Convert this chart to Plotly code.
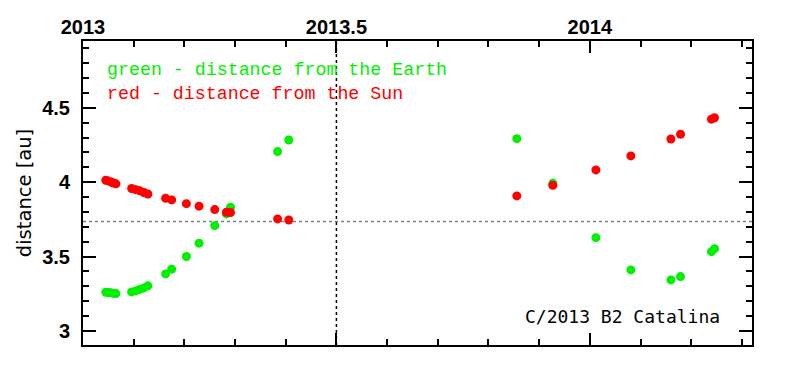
import plotly.graph_objects as go

# Data (decimal year, distance in au)
years = [2013.045, 2013.050, 2013.055, 2013.060, 2013.065,
         2013.096, 2013.104, 2013.112, 2013.120, 2013.128,
         2013.163, 2013.175, 2013.204, 2013.229, 2013.260,
         2013.283, 2013.291, 2013.384, 2013.406,
         2013.856, 2013.927, 2014.012, 2014.081, 2014.160,
         2014.179, 2014.240, 2014.246]
earth_dist = [3.260, 3.258, 3.256, 3.252, 3.251,
              3.262, 3.269, 3.279, 3.289, 3.303,
              3.383, 3.415, 3.500, 3.590, 3.708,
              3.787, 3.832, 4.206, 4.284,
              4.293, 3.993, 3.627, 3.410, 3.343,
              3.365, 3.533, 3.553]
sun_dist = [4.013, 4.009, 4.002, 3.995, 3.989,
            3.958, 3.950, 3.942, 3.931, 3.921,
            3.892, 3.881, 3.856, 3.839, 3.816,
            3.798, 3.796, 3.753, 3.746,
            3.908, 3.980, 4.083, 4.177, 4.291,
            4.323, 4.424, 4.434]
ref_distance = 3.735
ref_year = 2013.5
x_range = [2013.0, 2014.32]
y_range = [2.905, 4.95]

GREEN = "#00f000"
RED = "#ff0000"

fig = go.Figure()
fig.add_trace(go.Scatter(x=years, y=earth_dist, mode="markers",
                         marker=dict(color=GREEN, size=9, line=dict(width=0)),
                         showlegend=False))
fig.add_trace(go.Scatter(x=years, y=sun_dist, mode="markers",
                         marker=dict(color=RED, size=9, line=dict(width=0)),
                         showlegend=False))

fig.add_shape(type="line", xref="paper", yref="y", x0=0, x1=1,
              y0=ref_distance, y1=ref_distance,
              line=dict(color="#808080", width=1.5, dash="dot"), layer="below")
fig.add_shape(type="line", xref="x", yref="paper", x0=ref_year, x1=ref_year,
              y0=0, y1=1, line=dict(color="#000000", width=1.5, dash="dot"),
              layer="below")

fig.add_annotation(xref="paper", yref="paper", x=0.033, y=0.905,
                   xanchor="left", yanchor="middle", showarrow=False,
                   text="green - distance from the Earth",
                   font=dict(family="Liberation Mono", size=18.3, color=GREEN))
fig.add_annotation(xref="paper", yref="paper", x=0.033, y=0.826,
                   xanchor="left", yanchor="middle", showarrow=False,
                   text="red - distance from the Sun",
                   font=dict(family="Liberation Mono", size=18.3, color=RED))
fig.add_annotation(xref="paper", yref="paper", x=0.955, y=0.093,
                   xanchor="right", yanchor="middle", showarrow=False,
                   text="C/2013 B2 Catalina",
                   font=dict(family="DejaVu Sans Mono", size=18, color="#000000"))

tickfont = dict(family="Liberation Sans", size=20, color="#000000", weight="bold")

fig.update_xaxes(range=x_range, side="top", showgrid=False, zeroline=False,
                 automargin=False,
                 showline=True, linecolor="black", linewidth=2, mirror="allticks",
                 ticks="inside", ticklen=12, tickwidth=1.5, tickcolor="black",
                 tick0=2013, dtick=0.5, tickformat=".5~g", tickfont=tickfont,
                 ticklabelstandoff=-3,
                 minor=dict(dtick=0.1, ticklen=6, tickwidth=1.5, ticks="inside",
                            tickcolor="black", showgrid=False))
fig.update_yaxes(range=y_range, showgrid=False, zeroline=False,
                 automargin=False,
                 showline=True, linecolor="black", linewidth=2, mirror="allticks",
                 ticks="inside", ticklen=13, tickwidth=1.5, tickcolor="black",
                 tick0=3, dtick=0.5, tickformat=".5~g", tickfont=tickfont,
                 ticklabelstandoff=7,
                 minor=dict(dtick=0.1, ticklen=6, tickwidth=1.5, ticks="inside",
                            tickcolor="black", showgrid=False),
                 title=dict(text="distance [au]",
                            font=dict(family="DejaVu Sans", size=19.5, color="black"),
                            standoff=5))

# page body adds an 8px offset, so margins are shifted to compensate
fig.update_layout(width=794, height=373, plot_bgcolor="white", paper_bgcolor="white",
                  margin=dict(l=75, r=50, t=33, b=36))

fig.write_html("out.html")
